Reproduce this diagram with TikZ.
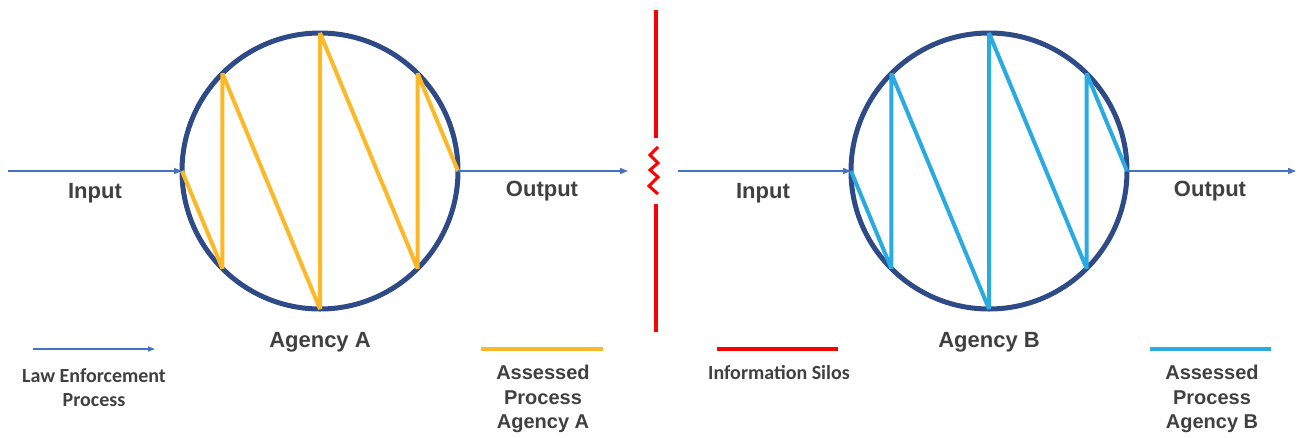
\documentclass[tikz,border=0pt]{standalone}
\usepackage{fontspec}
\setmainfont{Liberation Sans}
\newfontfamily\calfont{Carlito}
\usetikzlibrary{arrows.meta,calc}
\definecolor{navy}{HTML}{2E4A87}
\definecolor{goldline}{HTML}{FDB827}
\definecolor{skyline}{HTML}{29ABE2}
\definecolor{flowblue}{HTML}{4472C4}
\definecolor{silored}{HTML}{FF0000}
\definecolor{txtgray}{HTML}{404040}
\tikzset{
  agency/.style={circle,draw=navy,line width=5pt,minimum size=276pt,inner sep=0pt,outer sep=0pt},
  flow/.style={draw=flowblue,line width=1.5pt,-{Triangle[length=8pt,width=6pt]}},
  flowplain/.style={draw=flowblue,line width=1.5pt},
  zigA/.style={draw=goldline,line width=4pt,line join=bevel},
  zigB/.style={draw=skyline,line width=4pt,line join=bevel},
  silo/.style={draw=silored,line width=4pt},
  bigtxt/.style={font=\bfseries\fontsize{22}{26}\selectfont,text=txtgray,anchor=base,inner sep=0pt},
  midtxt/.style={font=\bfseries\fontsize{20}{24.5}\selectfont,text=txtgray,align=center,inner sep=0pt},
  smalltxt/.style={font=\calfont\bfseries\fontsize{20}{24}\selectfont,text=txtgray,align=center,inner sep=0pt},
}
\begin{document}
\begin{tikzpicture}[x=1pt,y=-1pt]
\useasboundingbox (0,0) rectangle (1299,437);
% circles
\node[agency] (cA) at (320,171) {};
\node[agency] (cB) at (989,171) {};
% zigzags
\draw[zigA] (cA.180) -- (cA.225) -- (cA.135) -- (cA.270) -- (cA.90) -- (cA.315) -- (cA.45) -- (cA.0);
\draw[zigB] (cB.180) -- (cB.225) -- (cB.135) -- (cB.270) -- (cB.90) -- (cB.315) -- (cB.45) -- (cB.0);
% flows
\coordinate (inA) at (8,171);
\coordinate (outA) at (628,171);
\coordinate (inB) at (678,171);
\coordinate (outB) at (1296,171);
\draw[flow] (inA) -- (cA.west);
\draw[flow] (cA.east) -- (outA);
\draw[flow] (inB) -- (cB.west);
\draw[flow] (cB.east) -- (outB);
% silo
\coordinate (s1) at (656,10);
\coordinate (s2) at (656,138);
\coordinate (s3) at (656,204);
\coordinate (s4) at (656,332);
\draw[silo] (s1) -- (s2);
\draw[silo] (s3) -- (s4);
\coordinate (z0) at (658,147);
\coordinate (z1) at (650,155);
\coordinate (z2) at (658,163);
\coordinate (z3) at (650,170);
\coordinate (z4) at (658,177);
\coordinate (z5) at (649,186);
\coordinate (z6) at (658,194);
\draw[silo,line width=3pt,line join=miter] (z0) -- (z1) -- (z2) -- (z3) -- (z4) -- (z5) -- (z6);
% labels
\node[bigtxt] (tinA) at (95,198) {Input};
\node[bigtxt] (toutA) at (542,196) {Output};
\node[bigtxt] (tinB) at (763,198) {Input};
\node[bigtxt] (toutB) at (1210,196) {Output};
\node[bigtxt] (tagA) at (320,347) {Agency A};
\node[bigtxt] (tagB) at (989,347) {Agency B};
% legend
\coordinate (l1a) at (33,349);
\coordinate (l1b) at (155,349);
\draw[flowplain,-{Triangle[length=7pt,width=5pt]}] (l1a) -- (l1b);
\node[smalltxt] (lLaw) at (94,388) {Law Enforcement\\Process};
\coordinate (l2a) at (481,349);
\coordinate (l2b) at (603,349);
\draw[zigA] (l2a) -- (l2b);
\node[midtxt] (lAsA) at (543,399) {Assessed\\Process\\Agency A};
\coordinate (l3a) at (717,349);
\coordinate (l3b) at (838,349);
\draw[silo] (l3a) -- (l3b);
\node[smalltxt] (lSilo) at (779,373) {Information Silos};
\coordinate (l4a) at (1150,349);
\coordinate (l4b) at (1271,349);
\draw[zigB] (l4a) -- (l4b);
\node[midtxt] (lAsB) at (1212,399) {Assessed\\Process\\Agency B};
\end{tikzpicture}
\end{document}
